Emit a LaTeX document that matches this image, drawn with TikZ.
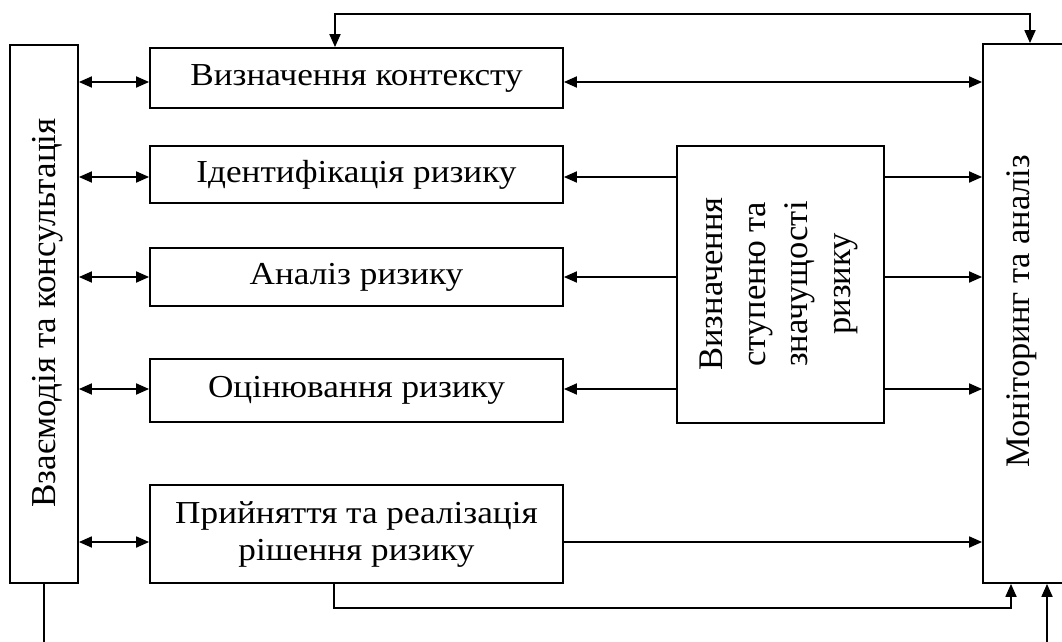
\documentclass[tikz,border=0pt]{standalone}
\usepackage{fontspec}
\setmainfont{Liberation Serif}
\newfontfamily\widefont[FakeStretch=1.1]{Liberation Serif}
\usetikzlibrary{arrows.meta}
\begin{document}
\begin{tikzpicture}[x=1pt,y=-1pt,line width=1.8pt,
  box/.style={draw,line width=1.8pt,inner sep=0pt,font=\widefont\fontsize{32}{37}\selectfont,align=center},
  lbl/.style={inner sep=0pt,align=center},
  tip/.style={-{Triangle[length=13pt,width=11pt]}},
  dtip/.style={{Triangle[length=13pt,width=11pt]}-{Triangle[length=13pt,width=11pt]}}]
\useasboundingbox (0,0) rectangle (1062,642);
\clip (0,0) rectangle (1062,642);
% boxes
\node[box,minimum width=68pt,minimum height=538pt] (lb) at (44,314) {};
\node[lbl,rotate=90,font=\fontsize{35}{40}\selectfont] (lbt) at (48,313) {Взаємодія та консультація};
\node[box,minimum width=100pt,minimum height=539pt] (rb) at (1033,313.5) {};
\node[lbl,rotate=90,font=\fontsize{34.4}{40}\selectfont] (rbt) at (1022,311) {Моніторинг та аналіз};
\node[box,minimum width=413pt,minimum height=60pt] (b1) at (356.5,78) {Визначення контексту};
\node[box,minimum width=413pt,minimum height=57pt] (b2) at (356.5,174.5) {Ідентифікація ризику};
\node[box,minimum width=413pt,minimum height=58pt] (b3) at (356.5,277) {Аналіз ризику};
\node[box,minimum width=413pt,minimum height=63pt] (b4) at (356.5,390.5) {Оцінювання ризику};
\node[box,minimum width=413pt,minimum height=98pt] (b5) at (356.5,534) {Прийняття та реалізація\\рішення ризику};
\node[box,minimum width=207pt,minimum height=277pt] (mid) at (780.5,284.5) {};
\node[lbl,rotate=90,font=\fontsize{34.5}{42.7}\selectfont] (midt) at (779,284) {Визначення\\ступеню та\\значущості\\ризику};
% row levels
\coordinate (r1) at (0,82);
\coordinate (r2) at (0,177);
\coordinate (r3) at (0,277);
\coordinate (r4) at (0,389);
\coordinate (r5) at (0,542);
% left double arrows
\draw[dtip] (lb.east |- r1) -- (b1.west |- r1);
\draw[dtip] (lb.east |- r2) -- (b2.west |- r2);
\draw[dtip] (lb.east |- r3) -- (b3.west |- r3);
\draw[dtip] (lb.east |- r4) -- (b4.west |- r4);
\draw[dtip] (lb.east |- r5) -- (b5.west |- r5);
% right side
\draw[dtip] (b1.east |- r1) -- (rb.west |- r1);
\draw[tip] (mid.west |- r2) -- (b2.east |- r2);
\draw[tip] (mid.west |- r3) -- (b3.east |- r3);
\draw[tip] (mid.west |- r4) -- (b4.east |- r4);
\draw[tip] (mid.east |- r2) -- (rb.west |- r2);
\draw[tip] (mid.east |- r3) -- (rb.west |- r3);
\draw[tip] (mid.east |- r4) -- (rb.west |- r4);
\draw[tip] (b5.east |- r5) -- (rb.west |- r5);
% top loop
\coordinate (tl) at (335,14);
\coordinate (tr) at (1030,14);
\draw[dtip] (tl |- b1.north) -- (tl) -- (tr) -- (tr |- rb.north);
% bottom loop
\coordinate (c5) at (334,608);
\coordinate (c6) at (1011,608);
\draw[tip] (c5 |- b5.south) -- (c5) -- (c6) -- (c6 |- rb.south);
\coordinate (ll) at (44,645);
\coordinate (rl) at (1047,645);
\draw (lb.south) -- (ll);
\draw[tip] (rl) -- (rl |- rb.south);
\end{tikzpicture}
\end{document}
